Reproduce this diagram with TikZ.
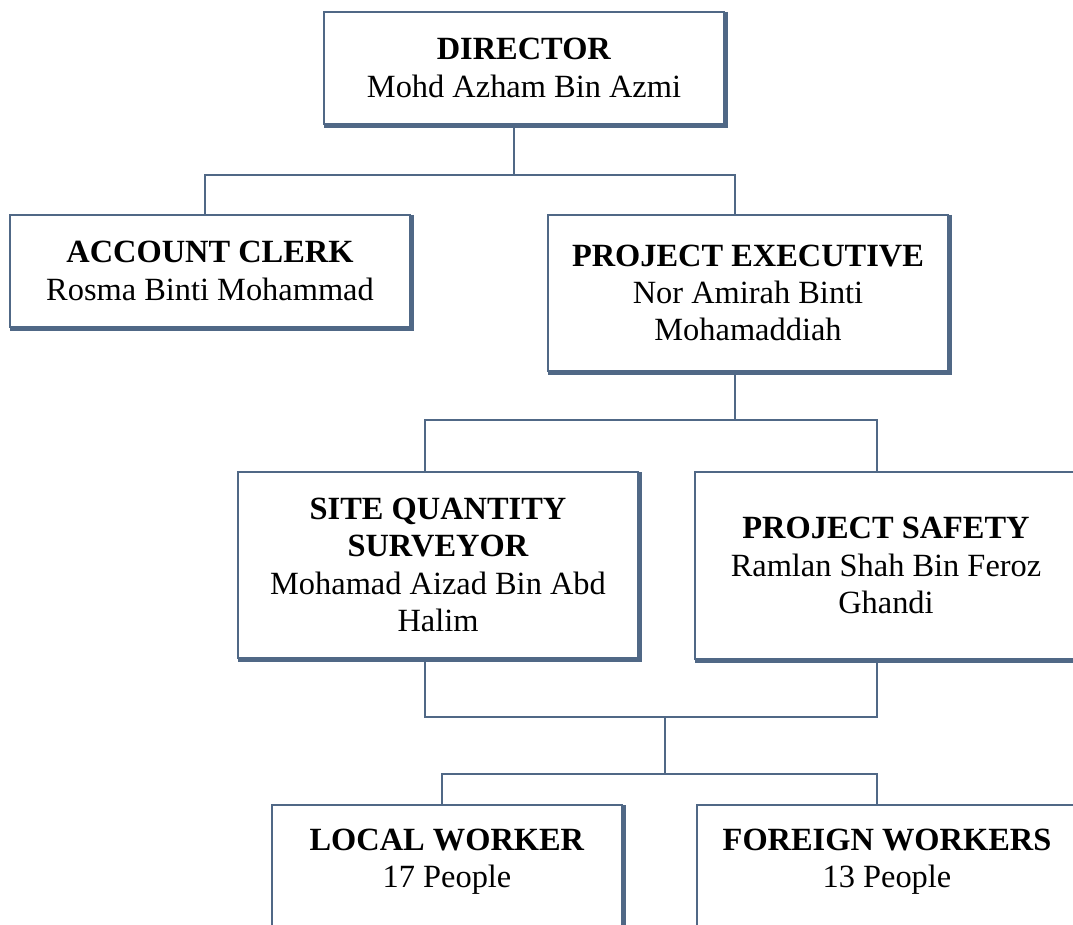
\documentclass[tikz,border=0pt]{standalone}
\usepackage{fontspec}
\setmainfont{Liberation Serif}
\definecolor{boxc}{RGB}{80,104,134}
\newcommand\boxshadow[1]{\draw[shadeline] ([xshift=2pt]#1.north east) -- ([xshift=2pt,yshift=-2pt]#1.south east) -- ([yshift=-2pt]#1.south west);}
\begin{document}
\begin{tikzpicture}[x=1pt,y=-1pt,
  box/.style={draw=boxc, line width=2.2pt, fill=white, outer sep=0pt, inner sep=0pt, align=center,
              font=\fontsize{32.4}{37.3}\selectfont},
  lbl/.style={inner sep=0pt, align=center, font=\fontsize{32.4}{37.3}\selectfont},
  conn/.style={draw=boxc, line width=2.4pt},
  shadeline/.style={draw=boxc, line width=4pt}]
\useasboundingbox[fill=white] (0,0) rectangle (1073,925);
\clip (0,0) rectangle (1073,925);

% boxes
\node[box, minimum width=400pt, minimum height=112pt] (dir) at (524,68) {\textbf{DIRECTOR}\\Mohd Azham Bin Azmi};
\node[box, minimum width=400pt, minimum height=112pt] (acc) at (210,271) {\textbf{ACCOUNT CLERK}\\Rosma Binti Mohammad};
\node[box, minimum width=400pt, minimum height=156pt] (pe) at (748,293) {\textbf{PROJECT EXECUTIVE}\\Nor Amirah Binti\\Mohamaddiah};
\node[box, minimum width=400pt, minimum height=186pt] (sqs) at (438,565) {\textbf{SITE QUANTITY}\\\textbf{SURVEYOR}\\Mohamad Aizad Bin Abd\\Halim};
\node[box, minimum width=382pt, minimum height=187pt] (ps) at (886,565.5) {\textbf{PROJECT SAFETY}\\Ramlan Shah Bin Feroz\\Ghandi};
\node[box, minimum width=350pt, minimum height=170pt, anchor=north] (lw) at (447,805) {};
\node[lbl, anchor=north] (lwt) at ([yshift=-24pt]lw.north) {\textbf{LOCAL WORKER}\\17 People};
\node[box, minimum width=380pt, minimum height=170pt, anchor=north] (fw) at (887,805) {};
\node[lbl, anchor=north] (fwt) at ([yshift=-24pt]fw.north) {\textbf{FOREIGN WORKERS}\\13 People};

\boxshadow{dir}
\boxshadow{acc}
\boxshadow{pe}
\boxshadow{sqs}
\boxshadow{ps}
\boxshadow{lw}
\boxshadow{fw}

% junctions
\coordinate (j1) at (514,175);
\coordinate (j2) at (735,420);
\coordinate (j3) at (665,717);
\coordinate (j4) at (665,774);

% connectors
\draw[conn] ([xshift=-10pt]dir.south) -- (j1);
\draw[conn] ([xshift=-5pt]acc.north) |- (j1) -| ([xshift=-13pt]pe.north);
\draw[conn] ([xshift=-13pt]pe.south) -- (j2);
\draw[conn] ([xshift=-13pt]sqs.north) |- (j2) -| ([xshift=-9pt]ps.north);
\draw[conn] ([xshift=-13pt]sqs.south) |- (j3) -| ([xshift=-9pt]ps.south);
\draw[conn] (j3) -- (j4);
\draw[conn] ([xshift=-5pt]lw.north) |- (j4) -| ([xshift=-10pt]fw.north);
\end{tikzpicture}
\end{document}
